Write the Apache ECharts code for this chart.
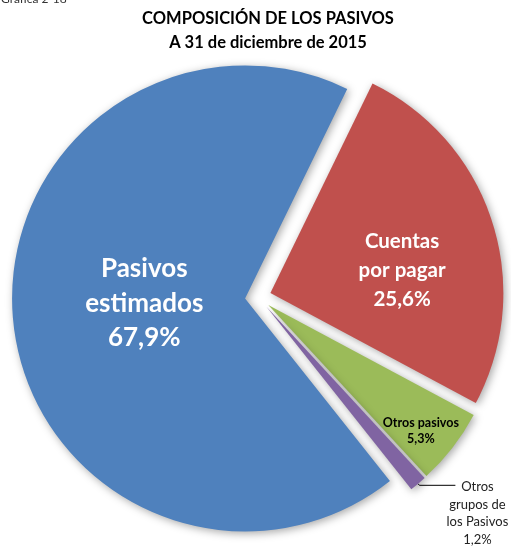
<!DOCTYPE html>
<html>
<head>
<meta charset="utf-8">
<script src="https://cdn.jsdelivr.net/npm/echarts@6/dist/echarts.min.js"></script>
<style>
    html, body {margin: 0; padding: 0; background: #fff;}
    #chart {width: 511px; height: 547px;}
</style>
</head>
<body>
<div id="chart"></div>
<script>
// datos de la gráfica (orden en sentido horario desde arriba)
var categorias = ['Cuentas por pagar', 'Otros pasivos', 'Otros grupos de los Pasivos', 'Pasivos estimados'];
var etiquetas = ['Cuentas\npor pagar', 'Otros pasivos', 'Otros\ngrupos de\nlos Pasivos', 'Pasivos\nestimados'];
var porcentajes = [25.6, 5.3, 1.2, 67.9];
var colores = ['#C0504D', '#9BBB59', '#8064A2', '#4F81BD'];

var fuente = 'Lato';

// estilo de cada etiqueta
var estilos = [
    {position: 'inside', color: '#fff', fontSize: 20.5, fontWeight: 'bold', lineHeight: 29},
    {position: 'inside', color: '#000', fontSize: 12.5, fontWeight: 'bold', lineHeight: 16},
    {position: 'outside', color: '#222', fontSize: 13, fontWeight: 'normal', lineHeight: 17.5},
    {position: 'inside', color: '#fff', fontSize: 26, fontWeight: 'bold', lineHeight: 34.5}
];
// desplazamientos de las etiquetas internas
var desplaza = [[18, 14], [58, 53], [0, 0], [18, -8]];

var datos = [];
for (var i = 0; i < categorias.length; i++) {
    var e = estilos[i];
    var fuera = e.position === 'outside';
    datos.push({
        name: categorias[i],
        value: porcentajes[i],
        selected: true,
        itemStyle: {color: colores[i]},
        label: {
            show: true,
            position: e.position,
            color: e.color,
            fontSize: e.fontSize,
            fontWeight: e.fontWeight,
            lineHeight: e.lineHeight,
            overflow: 'none',
            distanceToLabelLine: fuera ? 22 : 5
        },
        labelLine: {show: fuera, length: 2, length2: 36, lineStyle: {color: '#000', width: 1}}
    });
}

var myChart = echarts.init(document.getElementById('chart'));
var option = {
    animation: false,
    title: {
        text: 'COMPOSICIÓN DE LOS PASIVOS\nA 31 de diciembre de 2015',
        left: 263,
        top: 2,
        textAlign: 'center',
        textStyle: {fontFamily: fuente, fontSize: 16.5, fontWeight: 'bold', color: '#000', lineHeight: 24}
    },
    graphic: [{
        type: 'text',
        left: 1,
        top: -7,
        style: {text: 'Gráfica 2-18', fontFamily: fuente, fontSize: 12, fill: '#333'}
    }],
    series: [{
        type: 'pie',
        center: [258, 297],
        radius: 233,
        startAngle: 64,
        clockwise: true,
        selectedMode: 'multiple',
        selectedOffset: 13,
        emphasis: {scale: false},
        itemStyle: {
            shadowBlur: 8,
            shadowColor: 'rgba(0,0,0,0.35)',
            shadowOffsetX: 2,
            shadowOffsetY: 2
        },
        label: {
            fontFamily: fuente,
            formatter: function (p) {
                var txt = etiquetas[p.dataIndex] + '\n' + p.value.toFixed(1).replace('.', ',') + '%';
                // la etiqueta externa empieza a la altura de la línea guía
                if (estilos[p.dataIndex].position === 'outside') {
                    txt = '{hueco| }\n' + txt;
                }
                return txt;
            },
            rich: {
                hueco: {lineHeight: 56, fontSize: 1}
            }
        },
        labelLayout: function (p) {
            if (p.dataIndex === 2) {
                return {align: 'center'};
            }
            var d = desplaza[p.dataIndex];
            return {dx: d[0], dy: d[1]};
        },
        data: datos
    }]
};
myChart.setOption(option);
</script>
</body>
</html>
